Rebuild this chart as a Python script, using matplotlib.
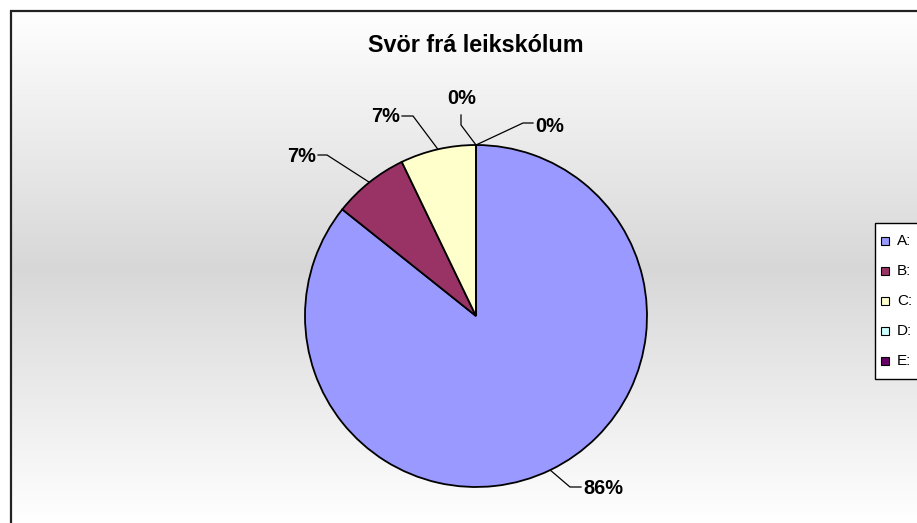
import numpy as np
import matplotlib
matplotlib.use("Agg")
import matplotlib.pyplot as plt
from matplotlib.patches import Rectangle

# ---- data ----
title = "Svör frá leikskólum"
categories = ["A:", "B:", "C:", "D:", "E:"]
values = [12, 1, 1, 0, 0]
colors = ["#9999FF", "#993366", "#FFFFCC", "#CCFFFF", "#660066"]

# ---- layout (pixels) ----
W, H = 917, 523
DPI = 100
cx, cy, R = 476, 316, 171
# per slice: elbow point, end of leader, text anchor, ha
label_layout = [
    ((570, 487), (581, 487), (583, 488), "left"),
    ((327, 155), (318, 155), (316, 157), "right"),
    ((413, 116), (402, 116), (400, 117), "right"),
    ((461, 125), (461, 115), (462, 98), "center"),
    ((523, 123), (533, 123), (535, 126), "left"),
]

plt.rcParams["font.family"] = ["Liberation Sans", "DejaVu Sans"]

fig = plt.figure(figsize=(W / DPI, H / DPI), dpi=DPI)

# background gradient
bg = fig.add_axes([0, 0, 1, 1])
bg.set_xlim(0, W)
bg.set_ylim(H, 0)
bg.axis("off")
ys = np.arange(H)
top_v, mid_v = 1.0, 0.845
mid_y = 267
grad = np.where(ys < mid_y,
                top_v - (top_v - mid_v) * np.clip((ys - 10) / (mid_y - 10), 0, 1),
                mid_v + (top_v - mid_v) * np.clip((ys - mid_y) / (H - mid_y), 0, 1))
img = np.repeat(grad[:, None], 2, axis=1)
bg.imshow(np.dstack([img, img, img]), extent=[0, W, H, 0], aspect="auto", interpolation="bilinear")
bg.add_patch(Rectangle((0, 0), 10, H, color="white", zorder=2))
bg.add_patch(Rectangle((0, 0), W, 10, color="white", zorder=2))
bg.plot([10.5, 10.5, W + 5], [H + 5, 10.5, 10.5], color="#222222", lw=1.6, zorder=3,
        solid_joinstyle="miter")
bg.set_xlim(0, W)
bg.set_ylim(H, 0)

bg.text(cx, 45, title, ha="center", va="center", fontsize=16.8, fontweight="bold", zorder=4)

# pie axes
ax = fig.add_axes([(cx - R) / W, (H - cy - R) / H, 2 * R / W, 2 * R / H])
wedges, _ = ax.pie(values, colors=colors, startangle=90, counterclock=False, radius=1,
                   wedgeprops=dict(edgecolor="black", linewidth=1.3))
ax.set_xlim(-1, 1)
ax.set_ylim(-1, 1)
ax.set_aspect("auto")
ax.axis("off")
for w in wedges:
    w.set_clip_on(False)

total = sum(values)
def to_px(xd, yd):
    return cx + xd * R, cy - yd * R

for w, v, (elbow, end, tpos, ha) in zip(wedges, values, label_layout):
    mid = np.deg2rad((w.theta1 + w.theta2) / 2)
    ex, ey = to_px(np.cos(mid), np.sin(mid))
    bg.plot([ex, elbow[0], end[0]], [ey, elbow[1], end[1]], color="black", lw=0.9, zorder=4)
    bg.text(tpos[0], tpos[1], "%.0f%%" % (v / total * 100), ha=ha, va="center",
            fontsize=14.4, fontweight="bold", zorder=5)

# legend (partially outside figure, as in reference)
lx, ly, lh = 875, 223, 156
bg.add_patch(Rectangle((lx, ly), 100, lh, facecolor="white", edgecolor="black", lw=1.0, zorder=5))
for i, (c, lab) in enumerate(zip(colors, categories)):
    yy = 241 + 30 * i
    bg.add_patch(Rectangle((881, yy - 4), 8, 8, facecolor=c, edgecolor="black", lw=0.8, zorder=6))
    bg.text(897, yy, lab, ha="left", va="center", fontsize=11, zorder=6)

fig.savefig("out.png", dpi=DPI)
